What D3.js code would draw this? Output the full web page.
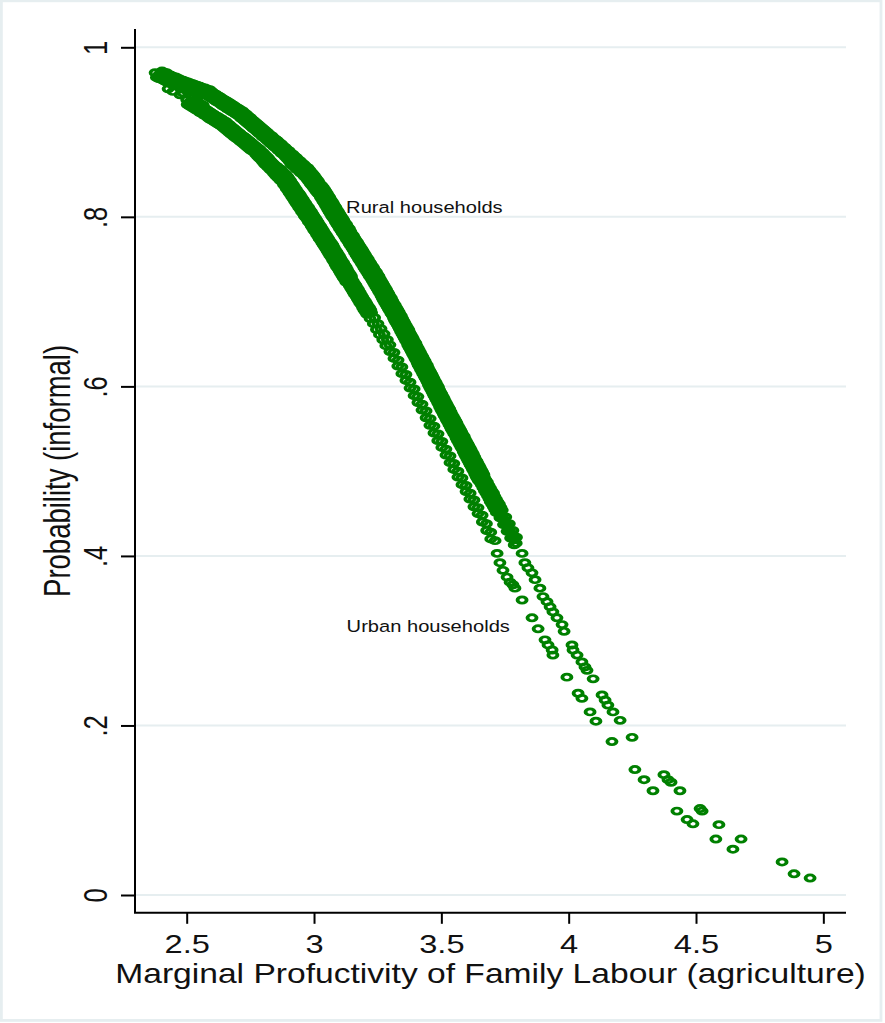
<!DOCTYPE html>
<html>
<head>
<meta charset="utf-8">
<script src="https://cdn.jsdelivr.net/npm/d3@7"></script>
<style>
body { margin: 0; background: #fff; }
svg { display: block; }
text { font-family: "Liberation Sans", Arial, sans-serif; fill: #111; }
</style>
</head>
<body>
<svg id="chart" width="885" height="1023"></svg>
<script>
// =======================
//  Data
// =======================

var xTicks = [2.5, 3, 3.5, 4, 4.5, 5];
var xTickLabels = ["2.5", "3", "3.5", "4", "4.5", "5"];
var yTicks = [0, 0.2, 0.4, 0.6, 0.8, 1];
var yTickLabels = ["0", ".2", ".4", ".6", ".8", "1"];

var xTitle = "Marginal Profuctivity of Family Labour (agriculture)";
var yTitle = "Probability (informal)";

// text(y x "...") annotations
var notes = [
    {label: "Rural households", x: 3.126, y: 0.805},
    {label: "Urban households", x: 3.128, y: 0.310}
];

// predicted probability, rural households [mpl, p]
var rural = [
    [2.376,0.970],
    [2.403,0.972],[2.390,0.963],[2.421,0.970],[2.408,0.961],[2.439,0.967],[2.426,0.958],
    [2.457,0.965],[2.445,0.956],[2.476,0.962],[2.464,0.954],[2.495,0.960],[2.483,0.952],
    [2.514,0.958],[2.502,0.950],[2.534,0.956],[2.521,0.948],[2.553,0.954],[2.540,0.946],
    [2.572,0.952],[2.559,0.944],
    [2.591,0.950],[2.577,0.9435],[2.607,0.946],[2.593,0.9405],[2.623,0.943],[2.609,0.9375],
    [2.639,0.940],[2.625,0.9345],[2.656,0.937],[2.642,0.9305],[2.672,0.934],[2.658,0.9275],
    [2.688,0.931],[2.674,0.9245],[2.704,0.928],[2.690,0.9215],
    [2.720,0.925],[2.706,0.9185],[2.735,0.921],[2.721,0.9145],[2.751,0.917],[2.736,0.9105],
    [2.766,0.913],[2.752,0.9065],[2.781,0.909],[2.767,0.9025],[2.797,0.905],[2.782,0.8985],
    [2.812,0.901],[2.797,0.8945],[2.827,0.897],[2.813,0.8905],[2.842,0.893],
    [2.828,0.8865],[2.857,0.890],[2.843,0.8825],[2.872,0.886],[2.858,0.8785],[2.887,0.882],
    [2.872,0.8745],[2.902,0.878],[2.887,0.8705],[2.917,0.874],[2.902,0.8655],[2.931,0.870],
    [2.917,0.860],[2.946,0.866],[2.931,0.856],[2.961,0.862],[2.946,0.852],[2.976,0.858],
    [2.961,0.848],[2.989,0.853],[2.973,0.844],[3.001,0.849],[2.985,0.839],[3.013,0.844],
    [2.996,0.835],[3.024,0.839],[3.008,0.830],[3.036,0.835],
    [3.020,0.826],[3.047,0.830],[3.030,0.821],[3.057,0.825],[3.040,0.816],[3.067,0.820],
    [3.050,0.811],[3.076,0.816],[3.059,0.806],[3.086,0.811],[3.069,0.801],[3.096,0.806],
    [3.079,0.797],[3.106,0.801],[3.090,0.791],[3.117,0.796],[3.100,0.786],[3.128,0.791],
    [3.111,0.781],[3.139,0.786],[3.122,0.776],[3.149,0.780],[3.133,0.771],[3.160,0.775],
    [3.143,0.766],[3.171,0.770],
    [3.154,0.761],[3.181,0.765],[3.165,0.755],[3.192,0.760],[3.175,0.750],[3.202,0.755],
    [3.186,0.745],[3.213,0.750],[3.196,0.740],[3.223,0.745],[3.207,0.735],[3.234,0.740],
    [3.217,0.730],[3.245,0.735],[3.228,0.725],
    [3.255,0.730],[3.238,0.720],[3.265,0.724],[3.248,0.715],[3.275,0.719],[3.258,0.710],
    [3.285,0.714],[3.268,0.704],[3.294,0.709],[3.277,0.699],[3.304,0.704],[3.287,0.694],
    [3.314,0.698],[3.297,0.689],[3.324,0.693],
    [3.307,0.684],[3.334,0.688],[3.316,0.678],[3.343,0.683],[3.326,0.673],[3.353,0.677],
    [3.335,0.668],[3.362,0.672],[3.345,0.662],[3.372,0.667],[3.354,0.657],[3.381,0.661],
    [3.364,0.652],[3.390,0.656],[3.373,0.646],
    [3.400,0.651],[3.382,0.641],[3.409,0.645],[3.391,0.636],[3.418,0.640],[3.400,0.631],
    [3.427,0.635],[3.409,0.625],[3.436,0.630],[3.418,0.620],[3.445,0.625],[3.427,0.615],
    [3.454,0.619],[3.436,0.610],[3.463,0.614],
    [3.445,0.605],[3.471,0.609],[3.454,0.599],[3.480,0.604],[3.463,0.594],[3.489,0.599],
    [3.471,0.589],[3.498,0.593],[3.480,0.584],[3.507,0.588],[3.489,0.579],[3.515,0.583],
    [3.498,0.573],[3.524,0.578],[3.507,0.568],
    [3.533,0.573],[3.516,0.563],[3.542,0.567],[3.525,0.558],[3.552,0.562],[3.535,0.552],
    [3.561,0.557],[3.544,0.547],[3.571,0.551],[3.554,0.542],[3.580,0.546],[3.563,0.536],
    [3.590,0.541],[3.572,0.531],[3.599,0.535],
    [3.582,0.526],[3.608,0.530],[3.591,0.520],[3.617,0.525],[3.600,0.515],[3.626,0.520],
    [3.609,0.510],[3.635,0.514],[3.618,0.505],[3.644,0.509],[3.627,0.500],[3.653,0.504],
    [3.636,0.494],[3.662,0.499],[3.645,0.489],
    [3.669,0.493],[3.657,0.484],[3.681,0.487],[3.669,0.477],[3.693,0.480],[3.681,0.471],
    [3.705,0.474],[3.692,0.464],[3.716,0.467],[3.704,0.458],[3.728,0.461],[3.716,0.451],
    [3.739,0.454],[3.730,0.445],[3.753,0.446],[3.744,0.437],[3.767,0.438],[3.758,0.429],
    [3.781,0.430],[3.772,0.421],[3.795,0.422],[3.786,0.413],
    // more households along both edges of the band
    [2.381,0.9645],[2.412,0.9705],[2.399,0.9625],[2.430,0.968],[2.417,0.9595],[2.448,0.9655],
    [2.435,0.9575],[2.467,0.9635],[2.454,0.9554],[2.486,0.9613],[2.473,0.9532],[2.505,0.9591],
    [2.492,0.9511],[2.524,0.957],[2.512,0.9489],[2.543,0.9549],[2.531,0.9468],[2.562,0.9527],
    [2.550,0.9446],[2.581,0.9505],
    [2.569,0.9450],[2.599,0.9479],[2.585,0.9419],[2.615,0.9448],[2.601,0.9388],[2.631,0.9417],
    [2.617,0.9356],[2.647,0.9386],[2.634,0.9325],[2.664,0.9355],[2.650,0.9294],[2.680,0.9323],
    [2.666,0.9263],[2.696,0.9292],[2.682,0.9232],[2.712,0.9261],
    [2.698,0.9200],[2.728,0.9226],[2.713,0.9161],[2.743,0.9187],[2.729,0.9122],[2.758,0.9148],
    [2.744,0.9084],[2.774,0.9109],[2.759,0.9045],[2.789,0.9070],[2.775,0.9006],[2.804,0.9031],
    [2.790,0.8967],[2.819,0.8993],[2.805,0.8928],[2.835,0.8954],[2.820,0.8889],
    [2.850,0.8915],[2.835,0.8850],[2.865,0.8875],[2.850,0.8810],[2.880,0.8835],[2.865,0.8770],
    [2.894,0.8795],[2.880,0.8730],[2.909,0.8755],[2.895,0.8680],[2.924,0.8715],[2.909,0.8625],
    [2.939,0.8675],[2.924,0.8585],[2.953,0.8635],[2.939,0.8545],[2.968,0.8595],[2.954,0.8505],
    [2.983,0.8555],[2.967,0.8462],[2.995,0.8509],[2.979,0.8416],[3.007,0.8463],[2.991,0.8370],
    [3.018,0.8417],[3.002,0.8324],[3.030,0.8371],[3.014,0.8278],
    [3.042,0.8325],[3.025,0.8231],[3.052,0.8277],[3.035,0.8182],[3.062,0.8228],[3.045,0.8134],
    [3.072,0.8180],[3.054,0.8086],[3.081,0.8132],[3.064,0.8037],[3.091,0.8083],[3.074,0.7989],
    [3.101,0.8035],[3.084,0.7939],[3.112,0.7984],[3.095,0.7888],[3.122,0.7932],[3.106,0.7836],
    [3.133,0.7881],[3.117,0.7785],[3.144,0.7829],[3.127,0.7734],[3.155,0.7778],[3.138,0.7682],
    [3.165,0.7726],[3.149,0.7631],
    [3.176,0.7675],[3.159,0.7580],[3.187,0.7624],[3.170,0.7529],[3.197,0.7574],[3.180,0.7478],
    [3.208,0.7523],[3.191,0.7428],[3.218,0.7472],[3.201,0.7377],[3.229,0.7422],[3.212,0.7326],
    [3.239,0.7371],[3.223,0.7276],[3.250,0.7320],
    [3.233,0.7225],[3.260,0.7269],[3.243,0.7173],[3.270,0.7217],[3.253,0.7121],[3.280,0.7165],
    [3.263,0.7069],[3.290,0.7113],[3.272,0.7017],[3.299,0.7061],[3.282,0.6965],[3.309,0.7009],
    [3.292,0.6913],[3.319,0.6957],[3.302,0.6861],
    [3.329,0.6905],[3.312,0.6808],[3.338,0.6852],[3.321,0.6755],[3.348,0.6798],[3.331,0.6702],
    [3.357,0.6745],[3.340,0.6648],[3.367,0.6692],[3.350,0.6595],[3.376,0.6638],[3.359,0.6542],
    [3.386,0.6585],[3.368,0.6488],[3.395,0.6532],
    [3.378,0.6435],[3.404,0.6479],[3.387,0.6383],[3.413,0.6427],[3.396,0.6331],[3.422,0.6375],
    [3.405,0.6279],[3.431,0.6323],[3.414,0.6227],[3.440,0.6271],[3.423,0.6175],[3.449,0.6219],
    [3.432,0.6123],[3.458,0.6167],[3.441,0.6071],
    [3.467,0.6115],[3.449,0.6019],[3.476,0.6063],[3.458,0.5967],[3.485,0.6011],[3.467,0.5915],
    [3.493,0.5959],[3.476,0.5863],[3.502,0.5907],[3.485,0.5811],[3.511,0.5855],[3.493,0.5759],
    [3.520,0.5803],[3.502,0.5707],[3.529,0.5751],
    [3.511,0.5655],[3.538,0.5698],[3.520,0.5602],[3.547,0.5645],[3.530,0.5548],[3.557,0.5592],
    [3.539,0.5495],[3.566,0.5538],[3.549,0.5442],[3.576,0.5485],[3.558,0.5388],[3.585,0.5432],
    [3.568,0.5335],[3.594,0.5378],[3.577,0.5282],
    [3.604,0.5325],[3.586,0.5229],[3.613,0.5273],[3.595,0.5177],[3.622,0.5221],[3.604,0.5125],
    [3.631,0.5169],[3.613,0.5073],[3.640,0.5117],[3.622,0.5021],[3.649,0.5065],[3.631,0.4969],
    [3.658,0.5013],[3.640,0.4917],[3.667,0.4961],
    [3.651,0.4870],[3.675,0.4898],[3.663,0.4805],[3.687,0.4833],[3.675,0.4740],[3.699,0.4768],
    [3.687,0.4675],[3.710,0.4703],[3.698,0.4610],[3.722,0.4638],[3.710,0.4545],[3.734,0.4573],
    // households sitting in the middle of the band
    [2.392,0.968],[2.401,0.967],[2.410,0.966],[2.419,0.965],[2.428,0.963],[2.437,0.962],
    [2.446,0.961],[2.456,0.960],[2.465,0.959],[2.475,0.958],[2.484,0.957],[2.494,0.956],
    [2.503,0.955],[2.513,0.954],[2.523,0.952],[2.532,0.951],[2.542,0.950],[2.551,0.949],
    [2.561,0.948],[2.570,0.947],
    [2.580,0.946],[2.588,0.944],[2.596,0.943],[2.604,0.941],[2.612,0.940],[2.620,0.938],
    [2.628,0.937],[2.636,0.935],[2.645,0.934],[2.653,0.932],[2.661,0.930],[2.669,0.929],
    [2.677,0.927],[2.685,0.926],[2.693,0.924],[2.701,0.923],
    [2.709,0.921],[2.717,0.919],[2.724,0.917],[2.732,0.915],[2.740,0.913],[2.747,0.911],
    [2.755,0.909],[2.763,0.907],[2.770,0.906],[2.778,0.904],[2.786,0.902],[2.793,0.900],
    [2.801,0.898],[2.808,0.896],[2.816,0.894],[2.824,0.892],[2.831,0.890],
    [2.839,0.888],[2.846,0.886],[2.854,0.884],[2.861,0.882],[2.869,0.880],[2.876,0.878],
    [2.883,0.876],[2.891,0.874],[2.898,0.872],[2.906,0.870],[2.913,0.868],[2.920,0.866],
    [2.928,0.864],[2.935,0.862],[2.942,0.860],[2.950,0.858],[2.957,0.856],[2.965,0.854],
    [2.972,0.852],[2.978,0.850],[2.984,0.847],[2.990,0.845],[2.996,0.843],[3.002,0.841],
    [3.007,0.838],[3.013,0.836],[3.019,0.834],[3.025,0.831],
    [3.031,0.829],[3.036,0.827],[3.041,0.824],[3.046,0.822],[3.051,0.819],[3.056,0.817],
    [3.061,0.815],[3.065,0.812],[3.070,0.810],[3.075,0.807],[3.080,0.805],[3.085,0.802],
    [3.090,0.800],[3.095,0.797],[3.101,0.795],[3.106,0.792],[3.111,0.790],[3.117,0.787],
    [3.122,0.785],[3.128,0.782],[3.133,0.779],[3.138,0.777],[3.144,0.774],[3.149,0.772],
    [3.154,0.769],[3.160,0.767],
    [3.165,0.764],[3.170,0.762],[3.176,0.759],[3.181,0.756],[3.186,0.754],[3.191,0.751],
    [3.197,0.749],[3.202,0.746],[3.207,0.744],[3.212,0.741],[3.218,0.739],[3.223,0.736],
    [3.228,0.734],[3.234,0.731],[3.239,0.729],
    [3.244,0.726],[3.249,0.723],[3.254,0.721],[3.259,0.718],[3.264,0.716],[3.269,0.713],
    [3.274,0.710],[3.279,0.708],[3.283,0.705],[3.288,0.703],[3.293,0.700],[3.298,0.697],
    [3.303,0.695],[3.308,0.692],[3.313,0.690],
    [3.318,0.687],[3.323,0.684],[3.327,0.682],[3.332,0.679],[3.337,0.676],[3.342,0.674],
    [3.346,0.671],[3.351,0.668],[3.356,0.666],[3.361,0.663],[3.365,0.660],[3.370,0.658],
    [3.375,0.655],[3.379,0.652],[3.384,0.650],
    [3.389,0.647],[3.393,0.644],[3.398,0.642],[3.402,0.639],[3.407,0.637],[3.411,0.634],
    [3.416,0.631],[3.420,0.629],[3.425,0.626],[3.429,0.624],[3.434,0.621],[3.438,0.618],
    [3.443,0.616],[3.447,0.613],[3.452,0.611],
    [3.456,0.608],[3.460,0.605],[3.465,0.603],[3.469,0.600],[3.474,0.598],[3.478,0.595],
    [3.482,0.592],[3.487,0.590],[3.491,0.587],[3.496,0.585],[3.500,0.582],[3.504,0.579],
    [3.509,0.577],[3.513,0.574],[3.518,0.572],
    [3.522,0.569],[3.527,0.566],[3.531,0.564],[3.536,0.561],[3.541,0.558],[3.546,0.556],
    [3.550,0.553],[3.555,0.550],[3.560,0.548],[3.565,0.545],[3.569,0.542],[3.574,0.540],
    [3.579,0.537],[3.583,0.534],[3.588,0.532],
    [3.593,0.529],[3.597,0.526],[3.602,0.524],[3.606,0.521],[3.611,0.519],[3.615,0.516],
    [3.620,0.513],[3.624,0.511],[3.629,0.508],[3.633,0.506],[3.638,0.503],[3.642,0.500],
    [3.647,0.498],[3.651,0.495],[3.656,0.493],
    [3.660,0.490],[3.666,0.487],[3.672,0.484],[3.678,0.480],[3.684,0.477],[3.690,0.474],
    [3.696,0.471],[3.701,0.467],[3.707,0.464],[3.713,0.461],[3.719,0.458],[3.725,0.454],
    [3.731,0.451],[3.738,0.447],[3.745,0.443],[3.752,0.439],[3.759,0.435],[3.766,0.431],
    [3.773,0.427],[3.780,0.423],[3.787,0.419],[3.794,0.415],
    // sparse tail
    [3.817,0.403],[3.828,0.392],[3.840,0.386],[3.856,0.380],[3.868,0.372],[3.887,0.362],
    [3.899,0.352],[3.915,0.346],[3.927,0.340],[3.938,0.334],[3.954,0.327],[3.974,0.319],
    [3.982,0.311],[4.013,0.295],[4.017,0.289],[4.033,0.283],[4.052,0.275],[4.064,0.269],
    [4.072,0.265],[4.096,0.255],[4.131,0.236],[4.143,0.230],[4.154,0.224],[4.174,0.216],
    [4.202,0.206],[4.249,0.186],
    [4.374,0.142],[4.390,0.136],[4.402,0.133],[4.437,0.123],[4.516,0.102],[4.524,0.099],
    [4.590,0.083],[4.677,0.066],[4.838,0.039]
];

// predicted probability, urban households [mpl, p]
var urban = [
    [2.427,0.951],[2.446,0.948],[2.474,0.944],[2.486,0.946],[2.500,0.938],
    [2.524,0.940],[2.510,0.931],[2.540,0.936],[2.526,0.928],[2.557,0.933],[2.543,0.925],
    [2.573,0.9275],[2.559,0.922],[2.589,0.9245],[2.575,0.919],[2.605,0.9215],[2.591,0.915],
    [2.622,0.9185],[2.608,0.912],[2.638,0.9155],[2.624,0.909],
    [2.654,0.9125],[2.640,0.906],[2.670,0.9085],[2.655,0.902],[2.685,0.9045],[2.671,0.898],
    [2.701,0.9005],[2.687,0.894],[2.717,0.8965],[2.702,0.891],[2.732,0.8935],[2.718,0.887],
    [2.748,0.8895],[2.734,0.883],[2.763,0.8855],[2.749,0.879],[2.779,0.8815],
    [2.765,0.876],[2.794,0.8775],[2.779,0.871],[2.808,0.8735],[2.793,0.867],[2.821,0.8695],
    [2.806,0.862],[2.835,0.8645],[2.820,0.858],[2.849,0.8605],[2.834,0.854],[2.863,0.8565],
    [2.848,0.849],[2.876,0.854],[2.861,0.845],[2.890,0.850],
    [2.875,0.841],[2.902,0.845],[2.886,0.836],[2.913,0.840],[2.897,0.831],[2.924,0.835],
    [2.908,0.826],[2.935,0.830],[2.919,0.821],[2.946,0.826],[2.929,0.816],[2.957,0.821],
    [2.940,0.811],[2.968,0.816],[2.951,0.806],[2.979,0.811],[2.962,0.801],[2.990,0.806],
    [2.973,0.797],[3.000,0.801],[2.984,0.792],[3.011,0.796],[2.994,0.787],[3.021,0.791],
    [3.005,0.782],[3.032,0.786],[3.015,0.777],[3.042,0.781],[3.026,0.772],[3.053,0.776],
    [3.036,0.767],[3.064,0.771],[3.047,0.762],
    [3.074,0.767],[3.057,0.757],[3.084,0.761],[3.068,0.752],[3.095,0.756],[3.078,0.747],
    [3.105,0.751],[3.088,0.741],[3.116,0.746],[3.099,0.736],[3.126,0.741],[3.109,0.731],
    [3.136,0.735],[3.120,0.726],[3.147,0.730],
    [3.133,0.722],[3.154,0.724],[3.144,0.716],[3.165,0.719],[3.154,0.711],[3.175,0.714],
    [3.165,0.706],[3.186,0.708],[3.175,0.701],[3.196,0.703],[3.186,0.696],[3.207,0.698],
    [3.196,0.690],[3.218,0.693],[3.207,0.685],
    [3.226,0.687],[3.220,0.680],[3.238,0.681],[3.233,0.674],[3.251,0.674],[3.245,0.667],
    [3.263,0.668],[3.257,0.661],[3.275,0.662],[3.270,0.655],[3.288,0.655],[3.282,0.648],
    [3.298,0.649],[3.298,0.641],[3.314,0.640],[3.314,0.633],[3.330,0.631],[3.329,0.624],
    [3.345,0.623],[3.345,0.615],[3.361,0.614],
    [3.361,0.607],[3.377,0.605],[3.377,0.598],[3.393,0.597],[3.393,0.589],[3.408,0.588],
    [3.408,0.581],[3.424,0.579],[3.424,0.572],
    [3.440,0.571],[3.440,0.563],[3.456,0.562],[3.455,0.554],[3.471,0.553],[3.471,0.545],
    [3.487,0.544],[3.486,0.536],[3.502,0.535],
    [3.502,0.528],[3.518,0.526],[3.518,0.519],[3.534,0.518],[3.534,0.510],[3.549,0.509],
    [3.549,0.502],[3.565,0.500],[3.565,0.493],
    [3.581,0.492],[3.581,0.484],[3.597,0.483],[3.597,0.476],[3.613,0.474],[3.612,0.467],
    [3.628,0.466],[3.628,0.458],[3.644,0.457],
    [3.644,0.450],[3.660,0.448],[3.661,0.440],[3.677,0.438],[3.678,0.430],[3.694,0.428],
    [3.694,0.420],[3.711,0.418],
    // more households along both edges of the band
    [2.502,0.9325],[2.532,0.9379],[2.518,0.9294],[2.548,0.9348],[2.535,0.9263],[2.565,0.9317],
    [2.551,0.9231],[2.581,0.9261],[2.567,0.9200],[2.597,0.9230],[2.583,0.9169],[2.613,0.9198],
    [2.600,0.9138],[2.630,0.9167],[2.616,0.9107],[2.646,0.9136],
    [2.632,0.9075],[2.662,0.9101],[2.648,0.9037],[2.677,0.9064],[2.663,0.9000],[2.693,0.9026],
    [2.679,0.8962],[2.709,0.8988],[2.695,0.8924],[2.724,0.8951],[2.710,0.8887],[2.740,0.8913],
    [2.726,0.8849],[2.756,0.8875],[2.741,0.8811],[2.771,0.8838],[2.757,0.8774],
    [2.787,0.8800],[2.772,0.8733],[2.801,0.8756],[2.786,0.8689],[2.815,0.8713],[2.799,0.8646],
    [2.828,0.8669],[2.813,0.8602],[2.842,0.8625],[2.827,0.8558],[2.856,0.8591],[2.841,0.8514],
    [2.870,0.8563],[2.854,0.8471],[2.883,0.8519],[2.868,0.8427],
    [2.897,0.8475],[2.880,0.8381],[2.908,0.8426],[2.891,0.8332],[2.919,0.8377],[2.902,0.8283],
    [2.930,0.8328],[2.913,0.8234],[2.941,0.8279],[2.924,0.8185],[2.951,0.8231],[2.935,0.8136],
    [2.962,0.8182],[2.946,0.8087],[2.973,0.8133],[2.957,0.8038],[2.984,0.8084],[2.968,0.7989],
    [2.995,0.8035],[2.978,0.7940],[3.006,0.7986],[2.989,0.7891],[3.016,0.7936],[2.999,0.7842],
    [3.027,0.7887],[3.010,0.7792],[3.037,0.7838],[3.020,0.7743],[3.048,0.7788],[3.031,0.7694],
    [3.058,0.7739],[3.042,0.7644],[3.069,0.7690],
    [3.052,0.7595],[3.079,0.7639],[3.062,0.7543],[3.090,0.7587],[3.073,0.7491],[3.100,0.7535],
    [3.083,0.7439],[3.110,0.7483],[3.094,0.7387],[3.121,0.7431],[3.104,0.7335],[3.131,0.7379],
    [3.114,0.7283],[3.142,0.7327],[3.125,0.7231],
    [3.149,0.7265],[3.138,0.7189],[3.160,0.7213],[3.149,0.7137],[3.170,0.7161],[3.159,0.7085],
    [3.181,0.7109],[3.170,0.7033],[3.191,0.7057],[3.180,0.6981],[3.202,0.7005],[3.191,0.6929],
    [3.212,0.6953],[3.202,0.6877],[3.223,0.6901],
    // households sitting in the middle of the band
    [2.513,0.936],[2.521,0.934],[2.529,0.933],[2.537,0.931],[2.546,0.930],[2.554,0.928],
    [2.562,0.927],[2.570,0.925],[2.578,0.924],[2.586,0.922],[2.594,0.920],[2.602,0.919],
    [2.611,0.917],[2.619,0.916],[2.627,0.914],[2.635,0.913],
    [2.643,0.911],[2.651,0.909],[2.659,0.907],[2.666,0.905],[2.674,0.904],[2.682,0.902],
    [2.690,0.900],[2.698,0.898],[2.706,0.896],[2.713,0.894],[2.721,0.892],[2.729,0.890],
    [2.737,0.888],[2.745,0.887],[2.752,0.885],[2.760,0.883],[2.768,0.881],
    [2.776,0.879],[2.783,0.877],[2.790,0.875],[2.797,0.872],[2.804,0.870],[2.810,0.868],
    [2.817,0.866],[2.824,0.864],[2.831,0.862],[2.838,0.859],[2.845,0.857],[2.852,0.855],
    [2.859,0.853],[2.865,0.851],[2.872,0.848],[2.879,0.846],
    [2.886,0.844],[2.891,0.842],[2.897,0.839],[2.902,0.837],[2.908,0.834],[2.913,0.832],
    [2.919,0.829],[2.924,0.827],[2.930,0.824],[2.935,0.822],[2.940,0.820],[2.946,0.817],
    [2.951,0.815],[2.957,0.812],[2.962,0.810],[2.968,0.807],[2.973,0.805],[2.979,0.802],
    [2.984,0.800],[2.989,0.798],[2.995,0.795],[3.000,0.793],[3.005,0.790],[3.010,0.788],
    [3.016,0.785],[3.021,0.783],[3.026,0.780],[3.031,0.778],[3.037,0.775],[3.042,0.773],
    [3.047,0.770],[3.053,0.768],[3.058,0.766],
    [3.063,0.763],[3.068,0.760],[3.073,0.758],[3.079,0.755],[3.084,0.753],[3.089,0.750],
    [3.094,0.747],[3.099,0.745],[3.105,0.742],[3.110,0.740],[3.115,0.737],[3.120,0.734],
    [3.125,0.732],[3.131,0.729],[3.136,0.727],
    [3.141,0.724],[3.146,0.721],[3.152,0.719],[3.157,0.716],[3.162,0.714],[3.167,0.711],
    [3.173,0.708],[3.178,0.706],[3.183,0.703],[3.188,0.701],[3.194,0.698],[3.199,0.695],
    [3.204,0.693],[3.210,0.690],[3.215,0.688],
    // sparse tail
    [3.719,0.403],[3.730,0.392],[3.742,0.383],[3.758,0.375],[3.770,0.369],[3.781,0.366],
    [3.789,0.362],[3.817,0.348],[3.856,0.327],[3.880,0.314],[3.907,0.301],[3.919,0.295],
    [3.935,0.289],[3.938,0.283],[3.993,0.257],[4.037,0.238],[4.052,0.232],[4.084,0.216],
    [4.107,0.205],[4.170,0.181],
    [4.260,0.148],[4.296,0.136],[4.331,0.123],[4.425,0.099],[4.465,0.089],[4.488,0.084],
    [4.578,0.066],[4.645,0.054],[4.885,0.025],[4.948,0.020]
];

// =======================
//  Layout
// =======================

var svg = d3.select("#chart");
var markerColor = "#008000";
var gridColor = "#e6eef0";
var stretch = 1.28; // the picture is wider than Stata drew it

// graph region outline
svg.append("rect")
    .attr("x", 1.4).attr("y", 0.8)
    .attr("width", 879.6).attr("height", 1019.6)
    .attr("fill", "#fff")
    .attr("stroke", gridColor)
    .attr("stroke-width", 2.8);

var x = d3.scaleLinear().domain([2.297, 5.089]).range([135, 846]);
var y = d3.scaleLinear().domain([0, 1]).range([895, 47.3]);
var yLow = -0.021, yHigh = 1.0216;

// gridlines
svg.append("g").selectAll("line")
    .data(yTicks)
    .join("line")
    .attr("x1", x.range()[0]).attr("x2", x.range()[1])
    .attr("y1", d => y(d)).attr("y2", d => y(d))
    .attr("stroke", gridColor)
    .attr("stroke-width", 2);

// markers, hollow circles squashed like the picture
function drawSeries(data) {
    svg.append("g").selectAll("circle")
        .data(data)
        .join("circle")
        .attr("r", 3.1)
        .attr("transform", d => "translate(" + x(d[0]) + "," + y(d[1]) + ") scale(1.45,1)")
        .attr("fill", "none")
        .attr("stroke", markerColor)
        .attr("stroke-width", 2.7);
}
drawSeries(rural);
drawSeries(urban);

// ========================
// Axes
// ========================

var yAxis = d3.axisLeft(y)
    .tickValues(yTicks)
    .tickFormat((d, i) => yTickLabels[i])
    .tickSize(14)
    .tickSizeOuter(0);

var yG = svg.append("g")
    .attr("transform", "translate(" + x.range()[0] + ",0)")
    .call(yAxis);
yG.select(".domain").remove();
yG.selectAll(".tick line").attr("stroke", "#000").attr("stroke-width", 2);
yG.selectAll(".tick text")
    .attr("x", null).attr("dy", null)
    .attr("text-anchor", "middle")
    .attr("font-size", 25.5)
    .attr("transform", "translate(-28,0) rotate(-90) scale(1," + stretch + ")");
yG.append("line")
    .attr("x1", 0).attr("x2", 0)
    .attr("y1", y(yHigh)).attr("y2", y(yLow))
    .attr("stroke", "#000").attr("stroke-width", 2);

var xAxis = d3.axisBottom(x)
    .tickValues(xTicks)
    .tickFormat((d, i) => xTickLabels[i])
    .tickSize(11)
    .tickSizeOuter(0);

var xG = svg.append("g")
    .attr("transform", "translate(0," + y(yLow) + ")")
    .call(xAxis);
xG.select(".domain").remove();
xG.selectAll(".tick line").attr("stroke", "#000").attr("stroke-width", 2);
xG.selectAll(".tick text")
    .attr("y", null).attr("dy", null)
    .attr("font-size", 25.5)
    .attr("transform", "translate(0,40.6) scale(" + stretch + ",1)");
xG.append("line")
    .attr("x1", x.range()[0] - 1).attr("x2", x.range()[1])
    .attr("y1", 0).attr("y2", 0)
    .attr("stroke", "#000").attr("stroke-width", 2);

// titles
var midX = (x.range()[0] + x.range()[1]) / 2;
var midY = (y(yHigh) + y(yLow)) / 2;

svg.append("text")
    .attr("text-anchor", "middle")
    .attr("font-size", 27)
    .attr("transform", "translate(" + midX + ",982.7) scale(1.245,1)")
    .text(xTitle);

svg.append("text")
    .attr("text-anchor", "middle")
    .attr("font-size", 27.5)
    .attr("transform", "translate(70," + midY + ") rotate(-90) scale(1,1.37)")
    .text(yTitle);

// annotations
svg.append("g").selectAll("text")
    .data(notes)
    .join("text")
    .attr("font-size", 16.5)
    .attr("transform", d => "translate(" + x(d.x) + "," + y(d.y) + ") scale(1.22,1)")
    .text(d => d.label);
</script>
</body>
</html>
